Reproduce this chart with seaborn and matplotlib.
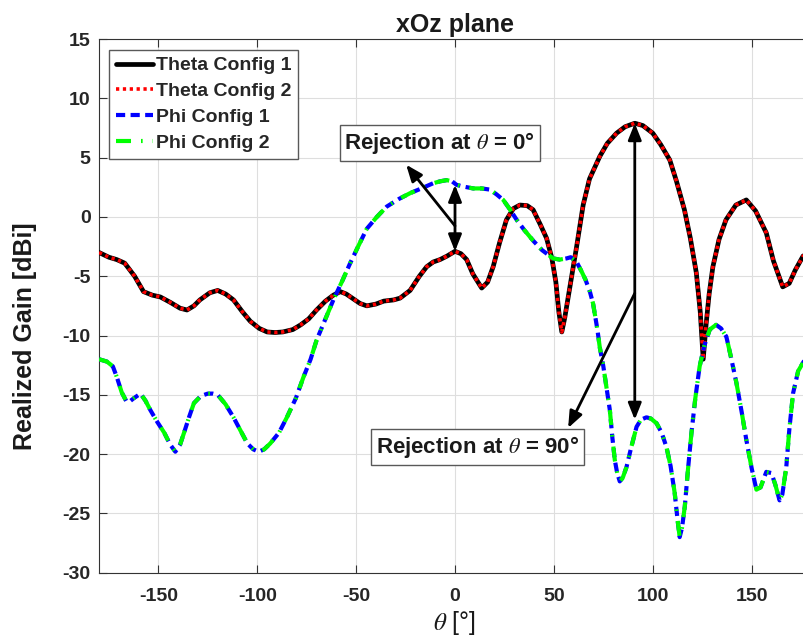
import numpy as np
import pandas as pd
import matplotlib
matplotlib.use("Agg")
import matplotlib.pyplot as plt
import seaborn as sns

# ---------------- data ----------------
theta_deg = [-180, -175, -171, -167, -162, -157.5, -153, -149, -144, -139, -135.5, -132, -129,
             -124, -120, -116, -112, -107.5, -103.5, -99, -95, -91, -87, -82, -78, -74, -70,
             -65.5, -61.5, -58, -55, -51.5, -48, -44.6, -40, -36, -31, -27.8, -22.7, -18,
             -14.3, -11, -7.6, -4, 0, 3, 5.9, 9, 13.5, 16.5, 19.3, 22.5, 26, 29.5, 32.8,
             36.5, 39.5, 43, 46.3, 49, 51, 52.5, 54, 55.5, 57, 59, 61.5, 64.8, 68, 73.2,
             77, 81.7, 86, 90.9, 95, 100, 104, 108.6, 112, 116, 119, 122, 124, 125.5, 127,
             128.5, 130.4, 133.5, 137, 142, 147.3, 152, 157.4, 161, 165.7, 169, 172, 176, 180]
theta_gain = [-3.0, -3.4, -3.6, -3.9, -5.0, -6.3, -6.6, -6.75, -7.2, -7.7, -7.85, -7.5, -7.0,
              -6.4, -6.2, -6.5, -7.0, -8.0, -8.8, -9.4, -9.7, -9.75, -9.7, -9.5, -9.1, -8.6, -7.85,
              -7.1, -6.6, -6.3, -6.5, -6.9, -7.3, -7.5, -7.35, -7.1, -7.0, -6.85, -6.2, -5.0,
              -4.2, -3.8, -3.6, -3.3, -2.9, -3.1, -3.6, -4.8, -6.0, -5.5, -4.2, -2.2, -0.25, 0.7, 1.0,
              0.95, 0.6, -0.6, -1.8, -3.5, -5.5, -8.0, -9.7, -8.5, -7.0, -5.0, -2.5, 1.0, 3.2, 5.1,
              6.2, 7.06, 7.6, 7.9, 7.7, 7.06, 6.1, 4.8, 3.0, 0.6, -1.8, -4.7, -8.0, -12.0, -9.0,
              -6.5, -4.2, -1.9, -0.25, 1.0, 1.43, 0.5, -1.35, -3.7, -5.9, -5.6, -4.5, -3.3, -3.0]

phi_deg = [-180, -176, -173, -171, -168.5, -166, -164, -162.5, -159, -156.5, -154, -150.5, -147,
           -144, -141.4, -139, -137, -134.5, -132, -128.5, -125, -122.5, -120, -116, -112,
           -108.5, -105, -102, -99.3, -96.5, -93.4, -89, -85, -80.5, -76.6, -73, -70, -65.5,
           -61.5, -57, -53, -49, -44.6, -39.5, -34.5, -28.5, -22.7, -17, -11, -7.5, -4.2, -1.5,
           0.8, 4.5, 9.2, 13.5, 17.7, 21, 24.4, 27.5, 31.2, 35, 39.5, 44, 49.6, 53, 56.4, 58.5,
           61.5, 64, 66, 68.2, 69.8, 72, 73.2, 75, 76.7, 78.3, 79.5, 80.8, 82, 83.3, 84.8, 86.7,
           89, 91.8, 94, 96.8, 99, 101.9, 104.5, 106.9, 109, 111.1, 112.5, 113.6, 114.8, 116.2,
           117.8, 119.5, 121.5, 123.7, 126, 128.8, 132, 134.5, 137.2, 139.5, 142.3, 145, 147.3,
           150, 152.4, 154.5, 157.4, 160, 162, 164.1, 165.5, 167.5, 169, 170.9, 173.5, 176.3, 180]
phi_gain = [-12.0, -12.2, -12.6, -13.5, -14.8, -15.6, -15.5, -15.3, -14.9, -15.5, -16.3, -17.3, -18.2,
            -19.2, -19.8, -19.2, -18.2, -16.9, -15.7, -15.1, -14.9, -14.9, -15.0, -15.8, -16.9,
            -18.0, -19.1, -19.6, -19.8, -19.6, -19.1, -18.2, -16.9, -15.3, -13.5, -12.0, -10.4, -8.6,
            -7.0, -5.4, -3.9, -2.5, -1.0, 0.0, 0.87, 1.5, 2.0, 2.4, 2.84, 3.0, 3.1, 3.0,
            2.7, 2.55, 2.4, 2.4, 2.3, 1.9, 1.43, 0.7, -0.25, -1.1, -2.0, -2.8, -3.5, -3.6, -3.5, -3.4,
            -3.8, -4.6, -5.3, -6.3, -7.3, -9.5, -11.0, -12.6, -14.5, -16.3, -18.5, -20.5, -21.6, -22.3, -22.0, -21.1,
            -19.5, -17.7, -17.1, -16.9, -17.0, -17.4, -18.2, -19.4, -21.0, -23.3, -25.5, -27.0, -26.2, -24.4,
            -21.3, -18.3, -15.3, -12.6, -10.9, -9.5, -9.1, -9.4, -10.1, -11.8, -14.0, -16.5, -18.8,
            -21.2, -23.0, -22.8, -21.5, -21.6, -22.6, -23.9, -23.4, -21.1, -18.0, -14.9, -13.0, -12.2, -12.0]

series_labels = ["Theta Config 1", "Theta Config 2", "Phi Config 1", "Phi Config 2"]
x_ticks = [-150, -100, -50, 0, 50, 100, 150]
y_ticks = [-30, -25, -20, -15, -10, -5, 0, 5, 10, 15]
title_text = "xOz plane"
xlabel_text = r"$\theta$ [°]"
ylabel_text = "Realized Gain [dBi]"
note0_text = r"Rejection at $\theta$ = 0°"
note90_text = r"Rejection at $\theta$ = 90°"

# ---------------- style ----------------
sns.set_theme(style="ticks")
plt.rcParams['font.family'] = ['Liberation Sans', 'DejaVu Sans']
plt.rcParams['mathtext.fontset'] = 'stix'
plt.rcParams['axes.unicode_minus'] = False

W, H = 804, 643
fig = plt.figure(figsize=(W / 100, H / 100), dpi=100)
ax_l, ax_r, ax_t, ax_b = 99, 811, 39, 572.7
ax = fig.add_axes([ax_l / W, 1 - ax_b / H, (ax_r - ax_l) / W, (ax_b - ax_t) / H])

theta_df = pd.DataFrame({"deg": theta_deg, "gain": theta_gain})
phi_df = pd.DataFrame({"deg": phi_deg, "gain": phi_gain})

sns.lineplot(data=theta_df, x="deg", y="gain", ax=ax, estimator=None, color="black",
             linewidth=3.4, label=series_labels[0], solid_joinstyle="round", zorder=3)
sns.lineplot(data=theta_df, x="deg", y="gain", ax=ax, estimator=None, color="#ff0000",
             linewidth=2.6, linestyle=(0, (0.9, 1.0)), label=series_labels[1], zorder=4)
sns.lineplot(data=phi_df, x="deg", y="gain", ax=ax, estimator=None, color="#0000ff",
             linewidth=3.0, linestyle=(0, (2.2, 1.3)), label=series_labels[2], zorder=5)
sns.lineplot(data=phi_df, x="deg", y="gain", ax=ax, estimator=None, color="#00ff00",
             linewidth=3.0, linestyle=(0, (3.6, 2.4, 0.4, 2.4)), label=series_labels[3], zorder=6)

ax.set_xlim(-180, 180)
ax.set_ylim(-30, 15)
ax.set_xticks(x_ticks)
ax.set_yticks(y_ticks)
ax.grid(True, color="0.87", linewidth=0.8, zorder=0)
ax.set_axisbelow(True)
ax.tick_params(direction="in", length=6, width=0.8, top=True, right=True,
               labelsize=14, color="0.2", labelcolor="0.15")
ax.tick_params(axis="x", pad=11)
ax.tick_params(axis="y", pad=6)
for lbl in ax.get_xticklabels() + ax.get_yticklabels():
    lbl.set_fontweight("bold")
for sp in ax.spines.values():
    sp.set_color("0.2")
    sp.set_linewidth(0.8)

ax.set_title(title_text, fontsize=18, fontweight="bold", pad=5, color="0.1")
ax.set_xlabel(xlabel_text, fontsize=18, color="0.1")
ax.xaxis.set_label_coords(0.5, (ax_b - 609) / (ax_b - ax_t))
ax.set_ylabel(ylabel_text, fontsize=18, fontweight="bold", color="0.1")
ax.yaxis.set_label_coords((37 - ax_l) / (ax_r - ax_l), (ax_b - 336) / (ax_b - ax_t))

leg = ax.legend(loc="upper left", bbox_to_anchor=((109 - ax_l) / (ax_r - ax_l), 1 - (50 - ax_t) / (ax_b - ax_t)),
                borderaxespad=0, prop={"weight": "bold", "size": 14}, handlelength=1.9,
                handletextpad=0.15, labelspacing=0.42, borderpad=0.35, fancybox=False,
                edgecolor="0.35", framealpha=1)
leg.get_frame().set_linewidth(1.0)
leg.set_zorder(10)

# annotations
arrow_kw = dict(color="black", lw=2, shrinkA=0, shrinkB=0, mutation_scale=20)
ax.annotate("", xy=(-24.7, 4.4), xytext=(0, -0.76),
            arrowprops=dict(arrowstyle="-|>,head_length=0.5,head_width=0.2", **arrow_kw), zorder=8)
ax.annotate("", xy=(0, 2.7), xytext=(0, -2.9),
            arrowprops=dict(arrowstyle="<|-|>,head_length=0.5,head_width=0.2", **arrow_kw), zorder=8)
ax.annotate("", xy=(57.2, -17.8), xytext=(90.9, -6.44),
            arrowprops=dict(arrowstyle="-|>,head_length=0.5,head_width=0.2", **arrow_kw), zorder=8)
ax.annotate("", xy=(90.9, 7.9), xytext=(90.9, -17.1),
            arrowprops=dict(arrowstyle="<|-|>,head_length=0.5,head_width=0.2", **arrow_kw), zorder=8)

box_kw = dict(boxstyle="square,pad=0.22", fc="white", ec="0.35", lw=1)
ax.text(-7.7, 6.24, note0_text, ha="center", va="center", fontsize=16, fontweight="bold",
        color="0.1", bbox=box_kw, zorder=9)
ax.text(11.2, -19.4, note90_text, ha="center", va="center", fontsize=16, fontweight="bold",
        color="0.1", bbox=box_kw, zorder=9)

fig.savefig("out.png", dpi=100)
